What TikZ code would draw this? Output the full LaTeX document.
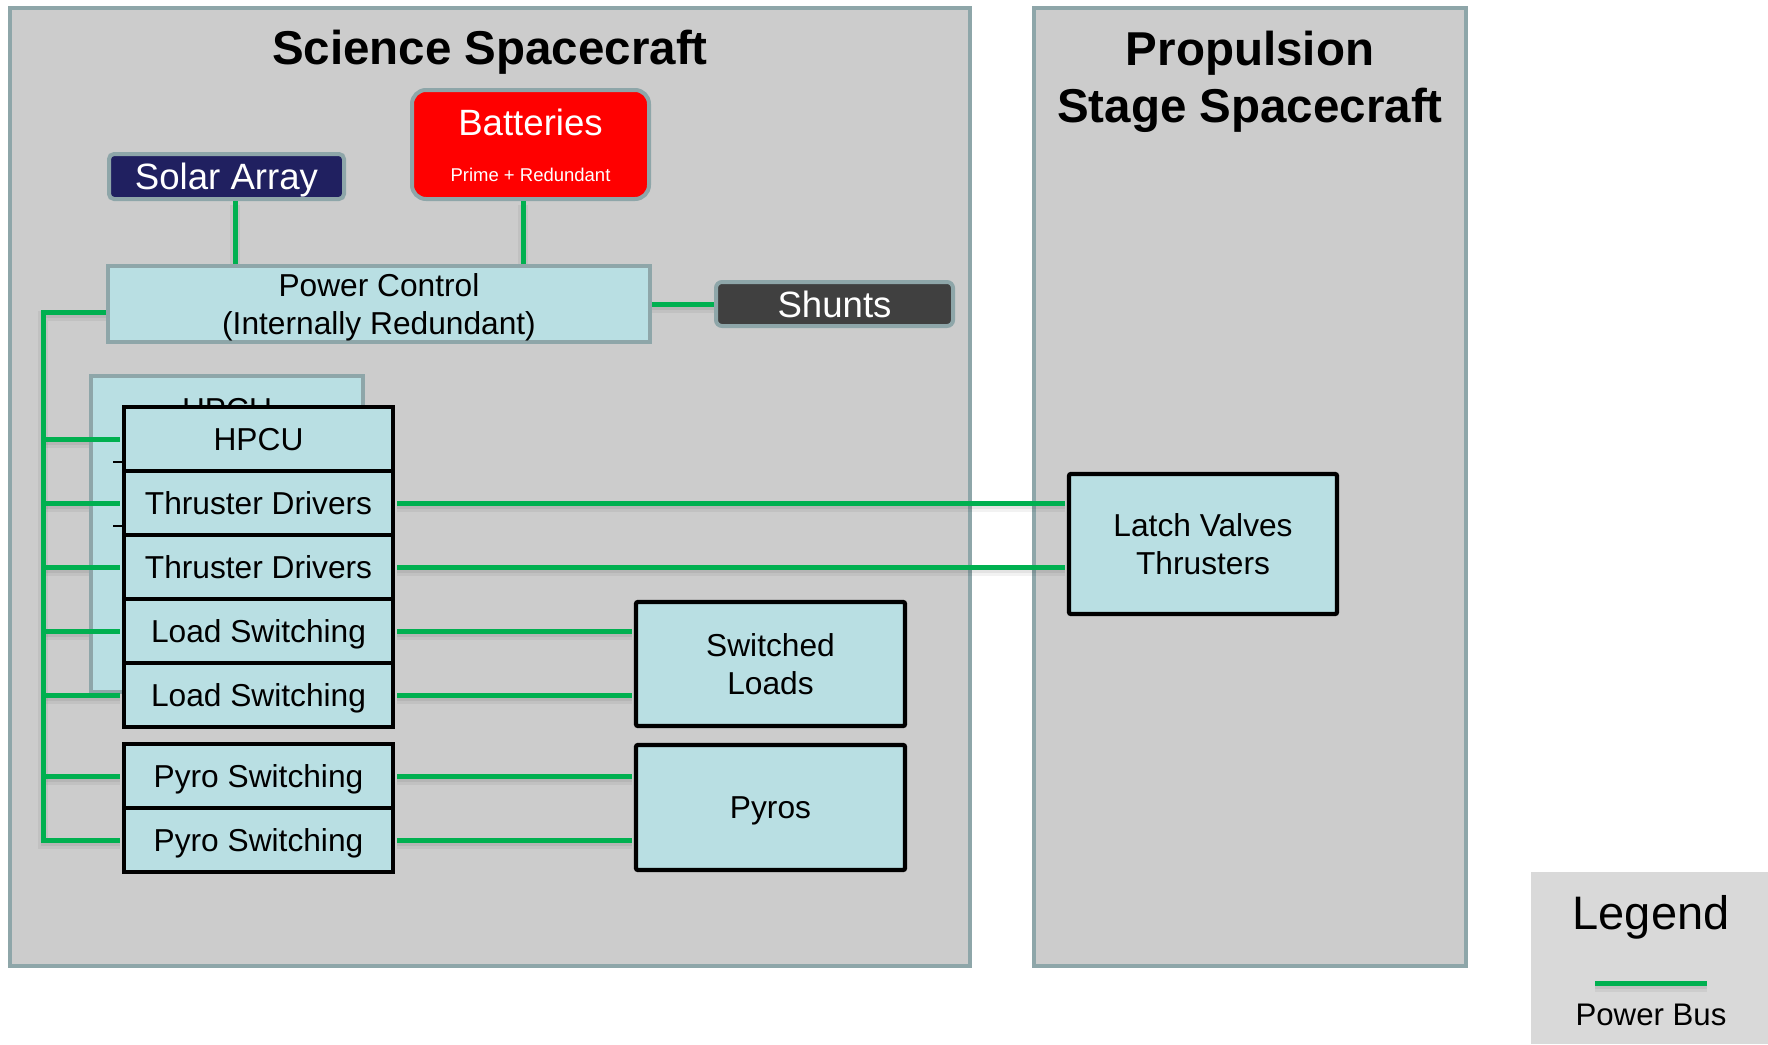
\documentclass[tikz,border=0pt]{standalone}
\usepackage{fontspec}
\setmainfont{Liberation Sans}
\pgfdeclarelayer{back}
\pgfdeclarelayer{shade}
\pgfdeclarelayer{front}
\pgfsetlayers{back,shade,main,front}
\definecolor{boxgray}{HTML}{CCCCCC}
\definecolor{edgegray}{HTML}{8EA6A9}
\definecolor{lteal}{HTML}{B9DFE3}
\definecolor{navyb}{HTML}{202060}
\definecolor{busgreen}{HTML}{00B050}
\definecolor{darkb}{HTML}{404040}
\definecolor{leggray}{HTML}{D9D9D9}
\newcommand\fmidfont{\fontsize{31.7}{37.5}\selectfont}
\newcommand\fsolfont{\fontsize{36.6}{42}\selectfont}
\newcommand\fsmallfont{\fontsize{18.5}{22}\selectfont}
\newcommand\ftitlefont{\bfseries\fontsize{47.5}{57}\selectfont}
\newcommand\flegfont{\fontsize{47}{56}\selectfont}
\tikzset{
  cont/.style={draw=edgegray, fill=boxgray, line width=4pt, inner sep=0pt},
  tbox/.style={draw=edgegray, fill=lteal, line width=4pt, inner sep=0pt, font=\fmidfont},
  rbox/.style={draw=edgegray, line width=4pt, inner sep=0pt, text=white, font=\fsolfont, text height=26pt, text depth=0pt},
  blk/.style={draw=black, fill=lteal, line width=4.3pt, inner sep=0pt, font=\fmidfont},
  rowbox/.style={blk, minimum width=269pt, minimum height=64pt, text height=22.7pt, text depth=0pt},
  ttl/.style={font=\ftitlefont, anchor=base, inner sep=0pt},
  busline/.style={draw=busgreen, line width=5pt},
}
\newcommand\buslines{%
  \draw[busline] ([xshift=8.5pt]solar.south) -- ([xshift=8.5pt]solar.south |- pc.north);
  \draw[busline] ([xshift=-7.5pt]bat.south) -- ([xshift=-7.5pt]bat.south |- pc.north);
  \draw[busline] (pc.east) -- (shunts.west);
  \draw[busline, shorten >=2pt] (pc.west |- bustop) -- (bustop) -- (busbot) -- (r7.west);
  \foreach \rr in {r1,r2,r3,r4,r5,r6}
    \draw[busline, shorten >=2pt] (bustop |- \rr.west) -- (\rr.west);
  \draw[busline, shorten <=2pt, shorten >=2pt] (r2.east) -- (r2.east -| latch.west);
  \draw[busline, shorten <=2pt, shorten >=2pt] (r3.east) -- (r3.east -| latch.west);
  \draw[busline, shorten <=2pt, shorten >=2pt] (r4.east) -- (r4.east -| sl.west);
  \draw[busline, shorten <=2pt, shorten >=2pt] (r5.east) -- (r5.east -| sl.west);
  \draw[busline, shorten <=2pt, shorten >=2pt] (r6.east) -- (r6.east -| pyros.west);
  \draw[busline, shorten <=2pt, shorten >=2pt] (r7.east) -- (r7.east -| pyros.west);
  \draw[busline] (lg1) -- (lg2);
}
\begin{document}
\begin{tikzpicture}[x=1pt,y=-1pt]
\useasboundingbox (0,0) rectangle (1768,1044);
\begin{pgfonlayer}{back}
  \fill[white] (0,0) rectangle (1768,1044);
  \node[cont, minimum width=960pt, minimum height=958pt] (sci) at (490,487) {};
  \node[cont, minimum width=432pt, minimum height=958pt] (prop) at (1250,487) {};
  \node[fill=leggray, inner sep=0pt, minimum width=237pt, minimum height=172pt] (leg) at (1649.5,958) {};
\end{pgfonlayer}

% titles
\node[ttl] (t1) at (490,64) {Science Spacecraft};
\node[ttl] (t2) at (1250,65) {Propulsion};
\node[ttl] (t3) at (1250,122) {Stage Spacecraft};

% top boxes
\node[rbox, fill=navyb, rounded corners=5pt, minimum width=235pt, minimum height=45pt] (solar) at (226.5,176.5) {Solar Array};
\node[rbox, fill=red, rounded corners=14pt, minimum width=237pt, minimum height=109pt] (bat) at (530.5,144.5) {};
\node[anchor=base, inner sep=0pt, text=white, font=\fsolfont] (batt) at (530.5,135.5) {Batteries};
\node[anchor=base, inner sep=0pt, text=white, font=\fsmallfont] (batsub) at (530.5,181) {Prime + Redundant};
\node[tbox, minimum width=542pt, minimum height=76pt, align=center, text depth=0pt] (pc) at (379,304) {Power Control\\(Internally Redundant)};
\node[rbox, fill=darkb, rounded corners=6pt, minimum width=237pt, minimum height=44pt] (shunts) at (834.5,304) {Shunts};

% HPCU background
\node[tbox, minimum width=272pt, minimum height=316pt] (hbg) at (227,534) {};
\node[anchor=base, inner sep=0pt, font=\fmidfont] (hbgt) at (227,420) {HPCU};
\draw[black, line width=2.5pt] (113,462) -- (122,462);
\draw[black, line width=2.5pt] (113,526) -- (122,526);

% rows
\node[rowbox] (r1) at (258.5,439) {HPCU};
\node[rowbox] (r2) at (258.5,503) {Thruster Drivers};
\node[rowbox] (r3) at (258.5,567) {Thruster Drivers};
\node[rowbox] (r4) at (258.5,631) {Load Switching};
\node[rowbox] (r5) at (258.5,695) {Load Switching};
\node[rowbox] (r6) at (258.5,776) {Pyro Switching};
\node[rowbox] (r7) at (258.5,840) {Pyro Switching};

% targets
\node[blk, rounded corners=2pt, minimum width=268pt, minimum height=140pt, align=center, text depth=0pt] (latch) at (1203,544) {Latch Valves\\Thrusters};
\node[blk, rounded corners=2pt, minimum width=269pt, minimum height=124pt, align=center, text depth=0pt] (sl) at (770.5,664) {Switched\\Loads};
\node[blk, rounded corners=2pt, minimum width=269pt, minimum height=125pt, text height=22.7pt, text depth=0pt] (pyros) at (770.5,807.5) {Pyros};

% legend
\node[anchor=base, inner sep=0pt, font=\flegfont] (legt) at (1651,929) {Legend};
\node[anchor=base, inner sep=0pt, font=\fontsize{31.2}{37}\selectfont] (legb) at (1651,1025) {Power Bus};
\coordinate (lg1) at (1595,983);
\coordinate (lg2) at (1707,983);

% bus coordinates
\coordinate (bustop) at (43,312);
\coordinate (busbot) at (43,840);

\begin{pgfonlayer}{shade}
  \begin{scope}[transform canvas={yshift=-4pt}, busline/.style={draw=black, opacity=0.05, line width=10pt}]
    \buslines
  \end{scope}
  \begin{scope}[transform canvas={yshift=-3pt}, busline/.style={draw=black, opacity=0.06, line width=5pt}]
    \buslines
  \end{scope}
\end{pgfonlayer}
\begin{pgfonlayer}{front}
  \buslines
\end{pgfonlayer}
\end{tikzpicture}
\end{document}
